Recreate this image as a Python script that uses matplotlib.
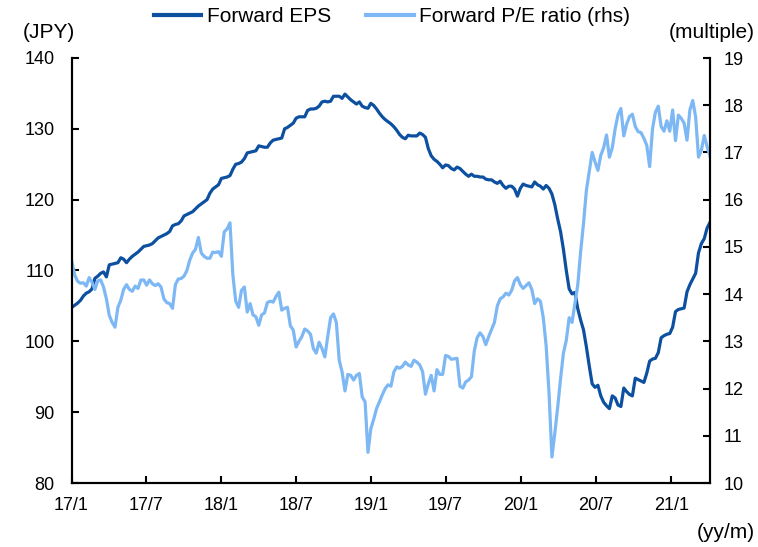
import matplotlib
matplotlib.use("Agg")
import matplotlib.pyplot as plt
import matplotlib.dates as mdates
from matplotlib.lines import Line2D
import pandas as pd

plt.rcParams['font.family'] = ['Liberation Sans', 'DejaVu Sans']

start_date = "2017-01-02"

forward_eps = [
    104.8, 105.1, 105.4, 105.8, 106.4, 106.8, 107.0, 107.4, 108.9, 109.2,
    109.6, 109.8, 109.1, 110.8, 110.9, 111.0, 111.1, 111.8, 111.6, 111.1,
    111.6, 112.0, 112.3, 112.6, 113.0, 113.4, 113.5, 113.6, 113.8, 114.2,
    114.6, 114.8, 115.0, 115.2, 115.5, 116.3, 116.5, 116.6, 117.0, 117.7,
    117.9, 118.1, 118.3, 118.7, 119.1, 119.4, 119.7, 120.0, 120.9, 121.5,
    121.8, 122.1, 123.0, 123.1, 123.2, 123.4, 124.3, 125.0, 125.1, 125.3,
    125.8, 126.6, 126.7, 126.8, 126.9, 127.6, 127.5, 127.4, 127.4, 128.0,
    128.4, 128.5, 128.6, 128.7, 130.0, 130.2, 130.5, 130.8, 131.5, 131.7,
    131.7, 131.7, 132.6, 132.8, 132.8, 132.9, 133.2, 133.8, 133.9, 133.8,
    133.9, 134.6, 134.6, 134.6, 134.3, 134.9, 134.5, 134.1, 133.8, 133.5,
    133.8, 133.2, 133.0, 132.9, 133.6, 133.3, 132.8, 132.2, 131.7, 131.3,
    131.0, 130.7, 130.3, 129.8, 129.2, 128.8, 128.6, 129.1, 129.0, 129.0,
    129.0, 129.4, 129.2, 128.8, 127.2, 126.2, 125.7, 125.4, 125.0, 124.5,
    124.9, 124.8, 124.4, 124.2, 124.6, 124.4, 124.0, 123.6, 123.3, 123.6,
    123.3, 123.3, 123.2, 123.2, 122.9, 122.8, 122.8, 122.5, 122.3, 122.6,
    122.0, 121.6, 121.9, 121.9, 121.5, 120.5, 121.6, 122.2, 122.0, 121.9,
    121.8, 122.5, 122.1, 121.9, 121.5, 122.0, 121.6, 120.8, 119.3, 117.3,
    115.5, 113.0, 110.0, 107.4, 106.7, 106.9, 104.6, 103.0, 101.6, 99.2,
    96.5, 94.0, 93.5, 93.8, 92.3, 91.4, 90.9, 90.5, 92.3, 92.0,
    91.0, 90.8, 93.4, 92.9, 92.5, 92.3, 94.8, 94.6, 94.4, 94.2,
    95.5, 97.2, 97.5, 97.6, 98.4, 100.5, 100.8, 101.0, 101.1, 102.0,
    104.2, 104.5, 104.6, 104.7, 107.0, 108.0, 108.8, 109.6, 112.5, 113.8,
    114.5, 116.0, 116.8,
]

forward_pe = [
    14.68, 14.40, 14.27, 14.23, 14.24, 14.17, 14.35, 14.25, 14.10, 14.28,
    14.30, 14.15, 13.90, 13.55, 13.40, 13.30, 13.72, 13.87, 14.10, 14.20,
    14.10, 14.06, 14.17, 14.12, 14.30, 14.30, 14.19, 14.30, 14.22, 14.18,
    14.22, 14.15, 13.90, 13.82, 13.80, 13.70, 14.20, 14.32, 14.33, 14.38,
    14.50, 14.72, 14.87, 14.95, 15.20, 14.87, 14.80, 14.76, 14.76, 14.89,
    14.88, 14.90, 14.80, 15.32, 15.38, 15.51, 14.40, 13.85, 13.72, 14.08,
    14.15, 13.62, 13.80, 13.56, 13.52, 13.34, 13.56, 13.60, 13.82, 13.85,
    13.83, 13.95, 14.04, 13.66, 13.70, 13.72, 13.33, 13.24, 12.88, 13.00,
    13.10, 13.26, 13.22, 13.15, 12.85, 12.75, 12.98, 12.85, 12.67, 13.10,
    13.50, 13.58, 13.40, 12.60, 12.35, 11.95, 12.30, 12.28, 12.18, 12.28,
    12.32, 11.82, 11.72, 10.65, 11.15, 11.35, 11.58, 11.72, 11.87, 12.00,
    12.08, 12.05, 12.35, 12.46, 12.43, 12.47, 12.56, 12.50, 12.47, 12.60,
    12.56, 12.50, 12.36, 11.88, 12.10, 12.28, 11.95, 12.40, 12.30, 12.30,
    12.70, 12.68, 12.62, 12.63, 12.64, 12.05, 12.01, 12.14, 12.18, 12.25,
    12.80, 13.08, 13.18, 13.10, 12.93, 13.10, 13.25, 13.40, 13.75, 13.90,
    13.94, 14.02, 13.98, 14.08, 14.28, 14.35, 14.20, 14.12, 14.18, 14.24,
    14.10, 13.80, 13.90, 13.85, 13.50, 12.90, 11.90, 10.55, 11.05, 11.60,
    12.20, 12.75, 13.02, 13.50, 13.40, 13.80, 14.20, 14.90, 15.50, 16.20,
    16.60, 17.00, 16.80, 16.62, 16.94, 17.10, 17.37, 16.90, 17.10, 17.50,
    17.80, 17.93, 17.35, 17.60, 17.76, 17.81, 17.55, 17.44, 17.42, 17.30,
    17.15, 16.70, 17.50, 17.85, 17.98, 17.55, 17.45, 17.67, 17.45, 17.90,
    17.25, 17.79, 17.72, 17.62, 17.26, 17.90, 18.10, 17.75, 16.90, 17.05,
    17.36, 17.12, 16.92,
]

tick_dates = ["2017-01-01", "2017-07-01", "2018-01-01", "2018-07-01", "2019-01-01",
              "2019-07-01", "2020-01-01", "2020-07-01", "2021-01-01"]
tick_labels = ["17/1", "17/7", "18/1", "18/7", "19/1", "19/7", "20/1", "20/7", "21/1"]

dates = pd.date_range(start_date, periods=len(forward_eps), freq="7D")

dark = "#0D50A0"
light = "#7DB8F5"
fs = 13
fs_text = 15

fig = plt.figure(figsize=(7.58, 5.47), dpi=100)
ax = fig.add_axes([71.5 / 758, 1 - 483 / 547, (710 - 71.5) / 758, (483 - 58) / 547])
ax2 = ax.twinx()

ax.plot(dates, forward_eps, color=dark, lw=2.3, solid_joinstyle="round")
ax2.plot(dates, forward_pe, color=light, lw=2.3, solid_joinstyle="round")

ax.set_xlim(pd.Timestamp("2017-01-01"), pd.Timestamp("2021-04-05"))
ax.set_ylim(80, 140)
ax2.set_ylim(10, 19)
ax.set_yticks(range(80, 141, 10))
ax2.set_yticks(range(10, 20, 1))
ax.set_xticks(pd.to_datetime(tick_dates))
ax.set_xticklabels(tick_labels)

for a in (ax, ax2):
    a.spines["top"].set_visible(False)
    for s in ("left", "right", "bottom"):
        a.spines[s].set_linewidth(1.5)
        a.spines[s].set_color("black")
    a.tick_params(direction="in", length=5, width=1.5, labelsize=fs, colors="black")
ax.tick_params(axis="x", pad=10)
ax.tick_params(axis="y", pad=12)
ax2.tick_params(axis="y", pad=10)

fig.text(23 / 758, 1 - 33 / 547, "(JPY)", fontsize=fs_text, ha="left", va="center")
fig.text(755 / 758, 1 - 33 / 547, "(multiple)", fontsize=fs_text, ha="right", va="center")
fig.text(755 / 758, 1 - 533 / 547, "(yy/m)", fontsize=fs_text, ha="right", va="center")

handles = [Line2D([], [], color=dark, lw=3), Line2D([], [], color=light, lw=3)]
fig.legend(handles, ["Forward EPS", "Forward P/E ratio (rhs)"], loc="center",
           bbox_to_anchor=(392 / 758, 1 - 17 / 547), ncol=2, frameon=False,
           fontsize=fs_text, handlelength=2.3, handletextpad=0.25, columnspacing=1.7,
           borderpad=0.1)

fig.savefig("out.png", dpi=100)
